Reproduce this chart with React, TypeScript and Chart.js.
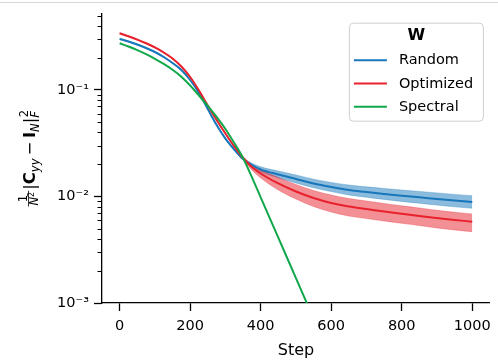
import { useEffect, useRef } from 'react';
import { Chart, registerables } from 'chart.js';

Chart.register(...registerables);

const FONT = "'DejaVu Sans', 'Liberation Sans', sans-serif";

// ---- data ----
const steps = [0, 25, 50, 75, 100, 125, 150, 175, 200, 225, 250, 275, 300, 325, 350, 375, 400, 450, 500, 550, 600, 650, 700, 750, 800, 850, 900, 950, 1000];

const randomMean = [0.3012, 0.2854, 0.2674, 0.2480, 0.2274, 0.2041, 0.1793, 0.1541, 0.1241, 0.0937, 0.0663, 0.0469, 0.0350, 0.02763, 0.02250, 0.01976, 0.01800, 0.01609, 0.01460, 0.01325, 0.01228, 0.01151, 0.01102, 0.01056, 0.01017, 0.00983, 0.00947, 0.00915, 0.00888];
const randomUpper = [0.3045, 0.2885, 0.2703, 0.2507, 0.2299, 0.2063, 0.1813, 0.1558, 0.1255, 0.0947, 0.0670, 0.0474, 0.0354, 0.02793, 0.02299, 0.02054, 0.01900, 0.01735, 0.01592, 0.01454, 0.01356, 0.01282, 0.01233, 0.01189, 0.01150, 0.01117, 0.01081, 0.01046, 0.01018];
const randomLower = [0.2979, 0.2823, 0.2645, 0.2453, 0.2249, 0.2019, 0.1774, 0.1524, 0.1228, 0.0927, 0.0656, 0.0464, 0.0346, 0.02733, 0.02202, 0.01901, 0.01705, 0.01492, 0.01339, 0.01207, 0.01112, 0.01033, 0.00985, 0.00938, 0.00899, 0.00865, 0.00830, 0.00800, 0.00775];

const optimizedMean = [0.3407, 0.3193, 0.2973, 0.2745, 0.2507, 0.2250, 0.1976, 0.1663, 0.1325, 0.0989, 0.0715, 0.0523, 0.0390, 0.02948, 0.02299, 0.01892, 0.01644, 0.01325, 0.01114, 0.00968, 0.00869, 0.00805, 0.00763, 0.00723, 0.00688, 0.00656, 0.00628, 0.00602, 0.00580];
const optimizedUpper = [0.3444, 0.3228, 0.3005, 0.2775, 0.2534, 0.2275, 0.1998, 0.1681, 0.1339, 0.1000, 0.0723, 0.0529, 0.0394, 0.02980, 0.02375, 0.01997, 0.01793, 0.01509, 0.01296, 0.01138, 0.01033, 0.00957, 0.00907, 0.00860, 0.00818, 0.00780, 0.00742, 0.00711, 0.00685];
const optimizedLower = [0.3370, 0.3159, 0.2941, 0.2715, 0.2480, 0.2226, 0.1955, 0.1645, 0.1311, 0.0978, 0.0707, 0.0517, 0.0386, 0.02916, 0.02226, 0.01773, 0.01492, 0.01151, 0.00947, 0.00805, 0.00715, 0.00655, 0.00621, 0.00589, 0.00560, 0.00534, 0.00506, 0.00485, 0.00467];

const spectralSteps = [0, 25, 50, 75, 100, 125, 150, 175, 200, 225, 250, 275, 300, 325, 350, 375, 400, 450, 500, 550];
const spectralMean = [0.2745, 0.2561, 0.2369, 0.2169, 0.1963, 0.1755, 0.1548, 0.1333, 0.1102, 0.0888, 0.0708, 0.0558, 0.0430, 0.0318, 0.02299, 0.01521, 0.00983, 0.004102, 0.001713, 0.000715];

const xTicks = [0, 200, 400, 600, 800, 1000];
const yMajorTicks = [0.001, 0.01, 0.1];
const yTickLabels = ['10\u207B\u00B3', '10\u207B\u00B2', '10\u207B\u00B9'];
const yMinorTicks = [0.002, 0.003, 0.004, 0.005, 0.006, 0.007, 0.008, 0.009, 0.02, 0.03, 0.04, 0.05, 0.06, 0.07, 0.08, 0.09, 0.2, 0.3, 0.4, 0.5];

const seriesLabels = ['Random', 'Optimized', 'Spectral'];
const legendTitle = 'W';
const xTitle = 'Step';

const BLUE = '#1877bb';
const RED = '#e8222d';
const GREEN = '#10a84a';
const BLUE_BAND = 'rgba(24,119,187,0.5)';
const RED_BAND = 'rgba(232,34,45,0.5)';

const pts = (xs: number[], ys: number[]) => xs.map((x, i) => ({ x, y: ys[i] }));

const decorPlugin = {
  id: 'decor',
  afterDraw(chart: any) {
    const ctx = chart.ctx as CanvasRenderingContext2D;
    const ca = chart.chartArea;
    const ys = chart.scales.y;

    // thin gray line at the very top
    ctx.save();
    ctx.strokeStyle = '#d6d6d6';
    ctx.lineWidth = 1;
    ctx.beginPath();
    ctx.moveTo(0, 2.5);
    ctx.lineTo(chart.width, 2.5);
    ctx.stroke();
    ctx.restore();

    // minor ticks on log axis
    ctx.save();
    ctx.strokeStyle = '#000';
    ctx.lineWidth = 1;
    for (const v of yMinorTicks) {
      const p = ys.getPixelForValue(v);
      if (p < ca.top - 0.5 || p > ca.bottom + 0.5) continue;
      const yy = Math.round(p) + 0.5;
      ctx.beginPath();
      ctx.moveTo(ca.left - 4.5, yy);
      ctx.lineTo(ca.left, yy);
      ctx.stroke();
    }
    ctx.restore();

    // y axis title (math-like)
    ctx.save();
    const cx = 35;
    const cy = (ca.top + ca.bottom) / 2;
    ctx.translate(cx, cy);
    ctx.rotate(-Math.PI / 2);
    ctx.fillStyle = '#000';
    ctx.textBaseline = 'alphabetic';
    const big = 16.5, small = 11.5, tiny = 8;
    type Piece = { t: string; f: string; dy: number; w?: number; kind?: string };
    const pieces: Piece[] = [
      { t: '', f: '', dy: 0, kind: 'frac' },
      { t: '|', f: `${big}px ${FONT}`, dy: 0 },
      { t: 'C', f: `bold ${big}px ${FONT}`, dy: 0 },
      { t: 'yy', f: `italic ${small}px ${FONT}`, dy: 3.5 },
      { t: '\u2009\u2212\u2009', f: `${big}px ${FONT}`, dy: 0 },
      { t: 'I', f: `bold ${big}px ${FONT}`, dy: 0 },
      { t: 'N', f: `italic ${small}px ${FONT}`, dy: 3.5 },
      { t: '|', f: `${big}px ${FONT}`, dy: 0 },
      { t: '', f: '', dy: 0, kind: 'supsub' },
    ];
    ctx.font = `${small}px ${FONT}`;
    const numW = ctx.measureText('1').width;
    ctx.font = `italic ${small}px ${FONT}`;
    const nW = ctx.measureText('N').width;
    ctx.font = `${tiny}px ${FONT}`;
    const twoW = ctx.measureText('2').width;
    const denW = nW + twoW;
    const fracW = Math.max(numW, denW) + 2;
    ctx.font = `italic ${small}px ${FONT}`;
    const fW = ctx.measureText('F').width;
    ctx.font = `${small}px ${FONT}`;
    const sW = ctx.measureText('2').width;
    const ssW = Math.max(fW, sW);
    let total = 0;
    for (const p of pieces) {
      if (p.kind === 'frac') p.w = fracW + 1;
      else if (p.kind === 'supsub') p.w = ssW;
      else {
        ctx.font = p.f;
        p.w = ctx.measureText(p.t).width;
      }
      total += p.w!;
    }
    let x = -total / 2;
    for (const p of pieces) {
      if (p.kind === 'frac') {
        const barY = -6.5;
        ctx.fillRect(x, barY - 0.4, fracW, 0.8);
        ctx.font = `${small}px ${FONT}`;
        ctx.textAlign = 'left';
        ctx.fillText('1', x + (fracW - numW) / 2, barY - 2);
        const dx = x + (fracW - denW) / 2;
        ctx.font = `italic ${small}px ${FONT}`;
        ctx.fillText('N', dx, barY + 9.5);
        ctx.font = `${tiny}px ${FONT}`;
        ctx.fillText('2', dx + nW, barY + 5.5);
      } else if (p.kind === 'supsub') {
        ctx.font = `${small}px ${FONT}`;
        ctx.textAlign = 'left';
        ctx.fillText('2', x + 0.5, -7.5);
        ctx.font = `italic ${small}px ${FONT}`;
        ctx.fillText('F', x, 4);
      } else {
        ctx.font = p.f;
        ctx.textAlign = 'left';
        ctx.fillText(p.t, x, p.dy);
      }
      x += p.w!;
    }
    ctx.restore();

    // legend
    const ds = chart.data.datasets.filter((d: any) => seriesLabels.includes(d.label));
    const bx = ca.right - 141;
    const by = ca.top + 8.7;
    const bw = 134;
    const bh = 98;
    ctx.save();
    ctx.beginPath();
    (ctx as any).roundRect(bx + 0.5, by + 0.5, bw, bh, 4);
    ctx.fillStyle = 'rgba(255,255,255,0.85)';
    ctx.fill();
    ctx.strokeStyle = '#cfcfcf';
    ctx.lineWidth = 1;
    ctx.stroke();
    ctx.fillStyle = '#000';
    ctx.font = `bold 16px ${FONT}`;
    ctx.textAlign = 'center';
    ctx.textBaseline = 'middle';
    ctx.fillText(legendTitle, bx + bw / 2 + 0.5, by + 13);
    ctx.font = `14.5px ${FONT}`;
    ctx.textAlign = 'left';
    seriesLabels.forEach((lab, i) => {
      const d = ds.find((q: any) => q.label === lab);
      const yy = by + 37.5 + i * 23.3;
      ctx.strokeStyle = d ? d.borderColor : '#000';
      ctx.lineWidth = 2;
      ctx.beginPath();
      ctx.moveTo(bx + 5, yy);
      ctx.lineTo(bx + 38, yy);
      ctx.stroke();
      ctx.fillStyle = '#000';
      ctx.fillText(lab, bx + 50, yy + 0.5);
    });
    ctx.restore();
  },
};

export default function App() {
  const ref = useRef<HTMLCanvasElement>(null);
  useEffect(() => {
    if (!ref.current) return;
    const lineBase = { pointRadius: 0, borderWidth: 2, cubicInterpolationMode: 'monotone' as const, fill: false };
    const bandBase = { pointRadius: 0, borderWidth: 1, cubicInterpolationMode: 'monotone' as const };
    const chart = new Chart(ref.current, {
      type: 'line',
      data: {
        datasets: [
          { ...bandBase, label: 'rl', data: pts(steps, randomLower), borderColor: 'rgba(24,119,187,0.3)', fill: false, order: 4 },
          { ...bandBase, label: 'ru', data: pts(steps, randomUpper), borderColor: 'rgba(24,119,187,0.3)', backgroundColor: BLUE_BAND, fill: '-1', order: 4 },
          { ...bandBase, label: 'ol', data: pts(steps, optimizedLower), borderColor: 'rgba(232,34,45,0.3)', fill: false, order: 3 },
          { ...bandBase, label: 'ou', data: pts(steps, optimizedUpper), borderColor: 'rgba(232,34,45,0.3)', backgroundColor: RED_BAND, fill: '-1', order: 3 },
          { ...lineBase, label: seriesLabels[0], data: pts(steps, randomMean), borderColor: BLUE, order: 2 },
          { ...lineBase, label: seriesLabels[1], data: pts(steps, optimizedMean), borderColor: RED, order: 1 },
          { ...lineBase, label: seriesLabels[2], data: pts(spectralSteps, spectralMean), borderColor: GREEN, order: 0 },
        ],
      },
      options: {
        animation: false,
        responsive: false,
        maintainAspectRatio: false,
        layout: { padding: { top: 14, right: 6.6, left: 0, bottom: 0 } },
        plugins: { legend: { display: false }, tooltip: { enabled: false } },
        scales: {
          x: {
            type: 'linear',
            min: -50,
            max: 1050,
            afterBuildTicks: (s: any) => { s.ticks = xTicks.map((v) => ({ value: v })); },
            afterFit: (s: any) => { s.height = 59; },
            grid: { drawOnChartArea: false, drawTicks: true, tickLength: 8, tickColor: '#000', tickWidth: 1.3 },
            border: { display: true, color: '#000', width: 1.3 },
            ticks: { color: '#000', font: { family: FONT, size: 14.5 }, padding: 7, maxRotation: 0, autoSkip: false, callback: (v: any) => String(v) },
            title: { display: true, text: xTitle, color: '#000', font: { family: FONT, size: 16 }, padding: { top: 0, bottom: 2 } },
          },
          y: {
            type: 'logarithmic',
            min: 0.001,
            max: 0.517,
            afterBuildTicks: (s: any) => { s.ticks = yMajorTicks.map((v) => ({ value: v, major: true })); },
            afterFit: (s: any) => { s.width = 102; },
            grid: { drawOnChartArea: false, drawTicks: true, tickLength: 8, tickColor: '#000', tickWidth: 1.3 },
            border: { display: true, color: '#000', width: 1.3 },
            ticks: {
              color: '#000',
              font: { family: FONT, size: 14.5 },
              padding: 5,
              autoSkip: false,
              callback: (v: any) => {
                const i = yMajorTicks.findIndex((t) => Math.abs(Math.log10(t) - Math.log10(Number(v))) < 1e-6);
                return i >= 0 ? yTickLabels[i] : '';
              },
            },
          },
        },
      },
      plugins: [decorPlugin],
    });
    return () => chart.destroy();
  }, []);
  return (
    <div style={{ position: 'absolute', left: 0, top: 0, width: 498, height: 362 }}>
      <canvas ref={ref} width={498} height={362} style={{ display: 'block' }} />
    </div>
  );
}
